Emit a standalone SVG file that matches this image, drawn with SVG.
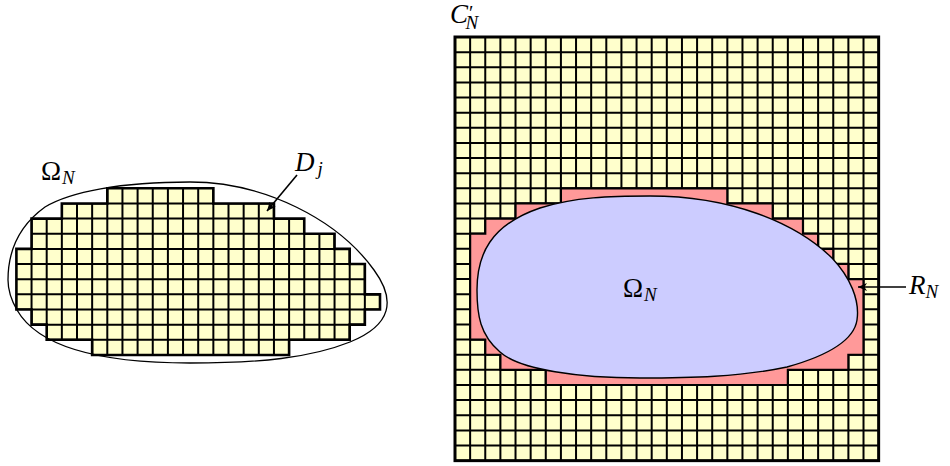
<svg xmlns="http://www.w3.org/2000/svg" width="950" height="466" viewBox="0 0 950 466">
<style>
.cell{fill:#ffffcc}
.grid{fill:none;stroke:#000;stroke-width:2}
.edge{fill:none;stroke:#000;stroke-width:2.6;stroke-linejoin:miter}
.curve{fill:none;stroke:#000;stroke-width:1.3}
.lbl{font-family:"Liberation Serif","DejaVu Serif",serif;fill:#000;font-size:27px}
.it{font-style:italic}
.sub{font-style:italic;font-size:19px}
.arr{stroke:#000;stroke-width:1.6;fill:none}
</style>
<defs>
<marker id="head" markerWidth="10" markerHeight="8" refX="9" refY="4" orient="auto" markerUnits="userSpaceOnUse">
<path d="M0,0 L9,4 L0,8 L2.5,4 Z" fill="#000"/>
</marker>
<clipPath id="leftClip">
<path id="leftPoly" d="M107.3,188.3 H213.35 V203.45 H273.95 V218.6 H304.25 V233.75 H334.55 V248.9 H349.7 V264.05 H364.85 V294.35 H380 V309.5 H364.85 V324.65 H349.7 V339.8 H289.1 V354.95 H92.15 V339.8 H46.7 V324.65 H31.55 V309.5 H16.4 V248.9 H31.55 V218.6 H61.85 V203.45 H107.3 Z"/>
</clipPath>
</defs>

<g id="left-domain">
<g id="D-cells">
<use href="#leftPoly" class="cell"/>
<path class="grid" clip-path="url(#leftClip)" d="M31.55 188.3V355M46.7 188.3V355M61.85 188.3V355M77 188.3V355M92.15 188.3V355M107.3 188.3V355M122.45 188.3V355M137.6 188.3V355M152.75 188.3V355M167.9 188.3V355M183.05 188.3V355M198.2 188.3V355M213.35 188.3V355M228.5 188.3V355M243.65 188.3V355M258.8 188.3V355M273.95 188.3V355M289.1 188.3V355M304.25 188.3V355M319.4 188.3V355M334.55 188.3V355M349.7 188.3V355M364.85 188.3V355M16.4 203.45H380M16.4 218.6H380M16.4 233.75H380M16.4 248.9H380M16.4 264.05H380M16.4 279.2H380M16.4 294.35H380M16.4 309.5H380M16.4 324.65H380M16.4 339.8H380"/>
<use href="#leftPoly" class="edge"/>
</g>
<g id="Omega-left">
<path class="curve" d="M8,280 C8,250 20,225 45,207 C70,192 120,182 190,182 C265,182 338,220 374,270 C396,300 392,325 350,342 C310,358 260,363 190,363 C110,363 40,350 17,310 C11,299.6 8,290 8,280 Z"/>
<text class="lbl" x="41" y="180">Ω<tspan class="sub" dx="1" dy="4">N</tspan></text>
</g>
<g id="Dj-label">
<text class="lbl it" x="295" y="171">D<tspan class="sub" dx="3" dy="4">j</tspan></text>
</g>
</g>

<g id="right-domain">
<g id="C-cells">
<rect class="cell" x="455" y="37" width="423.64" height="423.64"/>
<path class="grid" d="M470.13 37V460.64M485.26 37V460.64M500.39 37V460.64M515.52 37V460.64M530.65 37V460.64M545.78 37V460.64M560.91 37V460.64M576.04 37V460.64M591.17 37V460.64M606.3 37V460.64M621.43 37V460.64M636.56 37V460.64M651.69 37V460.64M666.82 37V460.64M681.95 37V460.64M697.08 37V460.64M712.21 37V460.64M727.34 37V460.64M742.47 37V460.64M757.6 37V460.64M772.73 37V460.64M787.86 37V460.64M802.99 37V460.64M818.12 37V460.64M833.25 37V460.64M848.38 37V460.64M863.51 37V460.64M455 52.13H878.64M455 67.26H878.64M455 82.39H878.64M455 97.52H878.64M455 112.65H878.64M455 127.78H878.64M455 142.91H878.64M455 158.04H878.64M455 173.17H878.64M455 188.3H878.64M455 203.43H878.64M455 218.56H878.64M455 233.69H878.64M455 248.82H878.64M455 263.95H878.64M455 279.08H878.64M455 294.21H878.64M455 309.34H878.64M455 324.47H878.64M455 339.6H878.64M455 354.73H878.64M455 369.86H878.64M455 384.99H878.64M455 400.12H878.64M455 415.25H878.64M455 430.38H878.64M455 445.51H878.64"/>
</g>
<g id="R-region">
<path fill="#ff9999" stroke="#000" stroke-width="2.2" d="M560.91,188.3 H727.34 V203.43 H772.73 V218.56 H802.99 V233.69 H818.12 V248.82 H833.25 V263.95 H848.38 V279.08 H863.51 V354.73 H848.38 V369.86 H787.86 V384.99 H545.78 V369.86 H500.39 V354.73 H485.26 V339.6 H470.13 V233.69 H485.26 V218.56 H515.52 V203.43 H560.91 Z"/>
</g>
<g id="Omega-right">
<path fill="#ccccff" stroke="#000" stroke-width="1.4" d="M650,196 C730,196 795,222 832,258 C850,277 860,300 857,320 C854,340 830,355 787,367 C740,377 690,378 640,378 C580,378 520,370 500,352 C480,335 477,315 477,290 C477,255 490,225 540,208 C575,197 610,196 650,196 Z"/>
<text class="lbl" x="623" y="297">Ω<tspan class="sub" dx="1" dy="4">N</tspan></text>
</g>
<rect id="C-border" x="455" y="37" width="423.64" height="423.64" fill="none" stroke="#000" stroke-width="3"/>
<g id="C-label">
<text class="lbl it" x="450" y="23">C<tspan font-style="normal" font-size="20" dx="1" dy="-3">′</tspan><tspan class="sub" dx="-8" dy="9">N</tspan></text>
</g>
<g id="RN-label">
<text class="lbl it" x="909" y="294">R<tspan class="sub" dx="0" dy="4">N</tspan></text>
</g>
</g>

<g id="connectors">
<line class="arr" x1="297" y1="175" x2="267" y2="211" marker-end="url(#head)"/>
<line class="arr" x1="906" y1="287" x2="858" y2="287" marker-end="url(#head)"/>
</g>
</svg>
